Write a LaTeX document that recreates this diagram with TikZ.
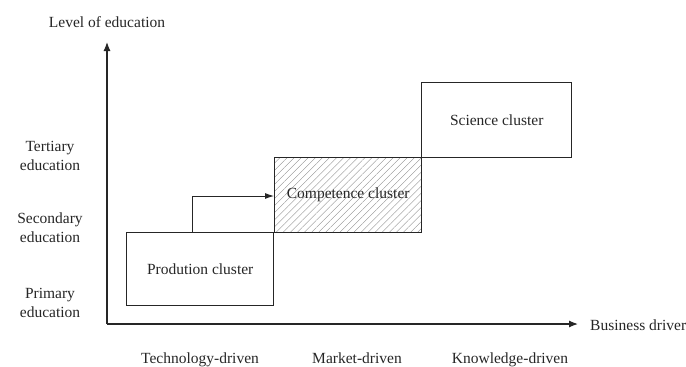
\documentclass[tikz,border=0pt]{standalone}
\usepackage{fontspec}
\setmainfont{Liberation Serif}
\usetikzlibrary{arrows.meta,patterns.meta}
\begin{document}
\begin{tikzpicture}[x=1pt,y=-1pt,
  lbl/.style={font=\fontsize{15.5}{19}\selectfont, text=black!85, inner sep=0pt},
  boxx/.style={draw=black!85, line width=1.4pt},
  axis/.style={draw=black!85, line width=1.2pt, -{Latex[length=9pt,width=7pt]}},
  conn/.style={draw=black!85, line width=0.9pt, -{Latex[length=9pt,width=6pt]}}]
\useasboundingbox (0,0) rectangle (686,367);
% axes
\coordinate (O) at (107,324);
\coordinate (ytip) at (107,42);
\coordinate (xtip) at (578,324);
\draw[axis] (O) -- (ytip);
\draw[axis] (O) -- (xtip);
% boxes
\path[pattern={Lines[angle=45,distance=5pt,line width=0.35pt]}, pattern color=black!45]
  (274,157) rectangle (421,232);
\node[boxx, minimum width=147pt, minimum height=75pt, anchor=north west, inner sep=0pt] (comp) at (274,157) {};
\node[lbl] at (comp.center) {Competence cluster};
\node[boxx, fill=white, minimum width=147pt, minimum height=73pt, anchor=north west, inner sep=0pt, lbl] (prod) at (126,232) {Prodution cluster};
\node[boxx, minimum width=150pt, minimum height=75pt, anchor=north west, inner sep=0pt, lbl] (sci) at (421,82) {Science cluster};
% connector
\coordinate (c1) at (192,232);
\coordinate (c2) at (192,196);
\draw[conn] (c1) -- (c2) -- (comp.west |- c2);
% labels
\node[lbl] (ly) at (107,22) {Level of education};
\node[lbl, anchor=west] (lx) at (590,325) {Business driver};
\node[lbl, align=center] (t) at (50,156) {Tertiary\\education};
\node[lbl, align=center] (s) at (50,228) {Secondary\\education};
\node[lbl, align=center] (p) at (50,303) {Primary\\education};
\node[lbl, anchor=base] (b1) at (200,363) {Technology-driven};
\node[lbl, anchor=base] (b2) at (357,363) {Market-driven};
\node[lbl, anchor=base] (b3) at (510,363) {Knowledge-driven};
\end{tikzpicture}
\end{document}
